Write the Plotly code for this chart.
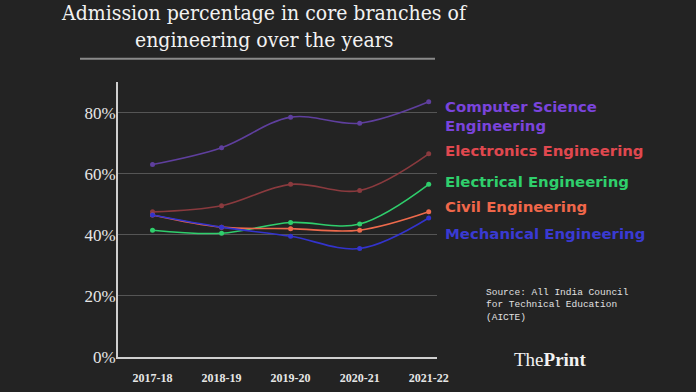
import plotly.graph_objects as go

years = ["2017-18", "2018-19", "2019-20", "2020-21", "2021-22"]
cs = [63, 68.5, 78.5, 76.5, 83.5]
electronics = [47.5, 49.5, 56.5, 54.5, 66.5]
electrical = [41.5, 40.5, 44, 43.5, 56.5]
civil = [46.5, 42.5, 42, 41.5, 47.5]
mechanical = [46.5, 42.5, 39.5, 35.5, 45.5]
y_ticks = [0, 20, 40, 60, 80]

series = [
    ("Computer Science<br>Engineering", cs, "#5f3f9e", "#7a44dc", 116),
    ("Electronics Engineering", electronics, "#8a3a3e", "#e0484f", 151),
    ("Electrical Engineering", electrical, "#2fce6c", "#2fcf6c", 182),
    ("Civil Engineering", civil, "#ee6a4c", "#f0674a", 207),
    ("Mechanical Engineering", mechanical, "#3333cc", "#3a3ad2", 234),
]

BG = "#232323"
fig = go.Figure()
for name, vals, lc, tc, ly in series:
    fig.add_trace(go.Scatter(
        x=years, y=vals, mode="lines+markers", name=name.replace("<br>", " "),
        line=dict(color=lc, width=1.6, shape="spline", smoothing=1.0),
        marker=dict(color=lc, size=5),
        showlegend=False, hoverinfo="skip"))
    fig.add_annotation(
        xref="paper", yref="paper", x=(443 - 118) / (437 - 118), xanchor="left",
        y=1 - (ly - 82) / (357 - 82), yanchor="middle",
        text=f"<b>{name}</b>", showarrow=False, align="left",
        font=dict(family="DejaVu Sans, sans-serif", size=14.9, color=tc))

fig.update_layout(
    width=696, height=392,
    paper_bgcolor=BG, plot_bgcolor=BG,
    margin=dict(l=118, r=259, t=82, b=35),
    xaxis=dict(type="category", range=[-0.5, 4.12], showgrid=False, automargin=False,
               showline=True, linecolor="#cfcfcf", linewidth=2,
               ticks="", ticklabelstandoff=9,
               tickfont=dict(family="Liberation Serif, serif", size=12, color="#e6e6e6", weight="bold")),
    yaxis=dict(range=[0, 90], tickvals=y_ticks, ticktext=[f"{v}%" for v in y_ticks],
               showgrid=True, gridcolor="#555555", gridwidth=1, automargin=False,
               showline=True, linecolor="#cfcfcf", linewidth=2, zeroline=False,
               ticks="", ticklabelstandoff=-3,
               tickfont=dict(family="Liberation Serif, serif", size=17, color="#e6e6e6")),
)

TFONT = dict(family="DejaVu Serif Condensed, DejaVu Serif, serif", size=21, color="#f2f2f2")
fig.add_annotation(xref="paper", yref="paper", x=(264 - 118) / 319, y=1 + (82 - 13) / 275,
                   text="Admission percentage in core branches of", showarrow=False,
                   xanchor="center", yanchor="middle", font=TFONT)
fig.add_annotation(xref="paper", yref="paper", x=(264 - 118) / 319, y=1 + (82 - 40) / 275,
                   text="engineering over the years", showarrow=False,
                   xanchor="center", yanchor="middle", font=TFONT)
fig.add_shape(type="line", xref="paper", yref="paper",
              x0=(80 - 118) / 319, x1=(435 - 118) / 319,
              y0=1 + (82 - 58.7) / 275, y1=1 + (82 - 58.7) / 275,
              line=dict(color="#8a8a8a", width=2))

fig.add_annotation(xref="paper", yref="paper", x=(484 - 118) / 319, y=1 - (285 - 82) / 275,
                   xanchor="left", yanchor="top", align="left", showarrow=False,
                   text="Source: All India Council<br>for Technical Education<br>(AICTE)",
                   font=dict(family="Liberation Mono, monospace", size=9.5, color="#e0e0e0"))
fig.add_annotation(xref="paper", yref="paper", x=(550 - 118) / 319, y=1 - (359 - 82) / 275,
                   xanchor="center", yanchor="middle", showarrow=False,
                   text="The<b>Print</b>",
                   font=dict(family="Liberation Serif, serif", size=19, color="#f2f2f2"))

fig.write_html("out.html", config={"displayModeBar": False},
               post_script="document.body.style.margin='0';")
